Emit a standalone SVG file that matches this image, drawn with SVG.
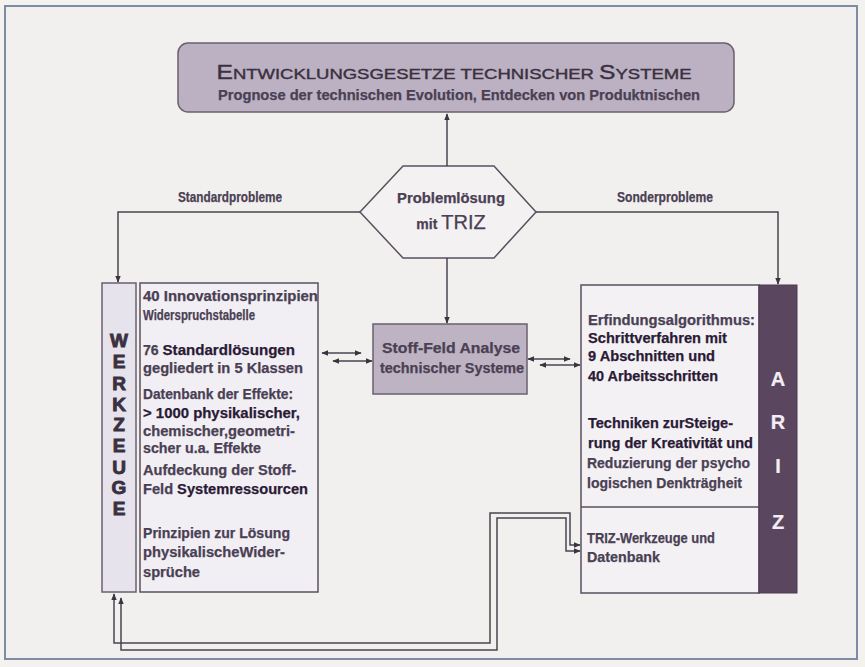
<svg xmlns="http://www.w3.org/2000/svg" width="865" height="667" viewBox="0 0 865 667">
<defs>
<style>
.t{font-family:"Liberation Sans",Arial,sans-serif;font-weight:bold;font-size:14px;fill:#4a4054;stroke:#4a4054;stroke-width:0.25}
.d{fill:#2a1a36;stroke:#2a1a36}
.big{font-family:"Liberation Sans",Arial,sans-serif;font-weight:bold;font-size:19px;fill:#3a3040;stroke:#3a3040;stroke-width:0.9;text-anchor:middle}
.w{fill:#f4eef4;stroke:#f4eef4;stroke-width:0.2;font-size:20px}
.c{fill:none;stroke:#4a4450;stroke-width:1.5}
</style>
<marker id="a" viewBox="0 0 10 10" refX="9" refY="5" markerWidth="7" markerHeight="7" orient="auto-start-reverse" markerUnits="userSpaceOnUse">
<path d="M0,1 L10,5 L0,9 z" fill="#3a3440"/>
</marker>
</defs>
<rect x="0" y="0" width="865" height="667" fill="#f4f2ef"/>
<rect x="5" y="6" width="852" height="653" fill="#f2f0ee" stroke="#7d8ba3" stroke-width="2"/>

<g id="top">
<rect x="178" y="43" width="556" height="69" rx="10" fill="#bcb1c2" stroke="#6a6070" stroke-width="1.5"/>
<text x="454" y="79" text-anchor="middle" font-family="Liberation Sans,Arial,sans-serif" fill="#3a3040" stroke="#3a3040" stroke-width="0.4" textLength="475" lengthAdjust="spacingAndGlyphs"><tspan font-size="20">E</tspan><tspan font-size="15">NTWICKLUNGSGESETZE   TECHNISCHER   </tspan><tspan font-size="20">S</tspan><tspan font-size="15">YSTEME</tspan></text>
<text class="t" x="459" y="100" text-anchor="middle" textLength="482" lengthAdjust="spacingAndGlyphs">Prognose der technischen Evolution,  Entdecken von Produktnischen</text>
</g>

<g id="hex">
<polygon points="360,212 403,166 494,166 536,212 494,258 403,258" fill="#f3f1f2" stroke="#5a5060" stroke-width="1.5"/>
<text class="t" x="451" y="203" text-anchor="middle" font-size="15" textLength="108" lengthAdjust="spacingAndGlyphs">Problemlösung</text>
<text x="451" y="229" text-anchor="middle" font-family="Liberation Sans,Arial,sans-serif" fill="#4a4054" stroke="#4a4054" stroke-width="0.25"><tspan font-size="14" font-weight="bold">mit </tspan><tspan font-size="20">TRIZ</tspan></text>
</g>

<g id="stoff">
<rect x="373" y="324" width="154" height="70" fill="#bdb3c3" stroke="#6a6070" stroke-width="1.5"/>
<text class="t" x="451" y="353" text-anchor="middle" font-size="15" textLength="138" lengthAdjust="spacingAndGlyphs">Stoff-Feld  Analyse</text>
<text class="t" x="452" y="373" text-anchor="middle" font-size="15" textLength="144" lengthAdjust="spacingAndGlyphs">technischer Systeme</text>
</g>

<g id="werkzeuge">
<rect x="102" y="283" width="34" height="309" fill="#e6e3ec" stroke="#6a6070" stroke-width="1.5"/>
<rect x="140" y="283" width="178" height="309" fill="#f1eff3" stroke="#5a5060" stroke-width="1.5"/>
<text class="big" x="119" y="347">W</text>
<text class="big" x="119" y="368">E</text>
<text class="big" x="119" y="390">R</text>
<text class="big" x="119" y="411">K</text>
<text class="big" x="119" y="431">Z</text>
<text class="big" x="119" y="452">E</text>
<text class="big" x="119" y="474">U</text>
<text class="big" x="119" y="494">G</text>
<text class="big" x="119" y="515">E</text>
<text class="t" x="143" y="301" textLength="175" lengthAdjust="spacingAndGlyphs">40 Innovationsprinzipien</text>
<text class="t" x="143" y="320" textLength="112" lengthAdjust="spacingAndGlyphs">Widerspruchstabelle</text>
<text class="t" x="143" y="355" textLength="152" lengthAdjust="spacingAndGlyphs">76 <tspan class="d" font-size="15">Standardlösungen</tspan></text>
<text class="t" x="143" y="373" textLength="160" lengthAdjust="spacingAndGlyphs">gegliedert in 5 Klassen</text>
<text class="t" x="143" y="399" textLength="150" lengthAdjust="spacingAndGlyphs">Datenbank der Effekte:</text>
<text class="t d" x="143" y="418" textLength="157" lengthAdjust="spacingAndGlyphs">&gt; 1000 physikalischer,</text>
<text class="t" x="143" y="436" textLength="152" lengthAdjust="spacingAndGlyphs">chemischer,geometri-</text>
<text class="t" x="143" y="453" textLength="118" lengthAdjust="spacingAndGlyphs">scher u.a. Effekte</text>
<text class="t" x="143" y="475" textLength="153" lengthAdjust="spacingAndGlyphs">Aufdeckung der Stoff-</text>
<text class="t" x="143" y="494" textLength="165" lengthAdjust="spacingAndGlyphs">Feld <tspan class="d">Systemressourcen</tspan></text>
<text class="t" x="143" y="538" textLength="147" lengthAdjust="spacingAndGlyphs">Prinzipien zur Lösung</text>
<text class="t" x="143" y="557" textLength="142" lengthAdjust="spacingAndGlyphs">physikalischeWider-</text>
<text class="t" x="143" y="577" textLength="57" lengthAdjust="spacingAndGlyphs">sprüche</text>
</g>

<g id="ariz">
<rect x="581" y="285" width="178" height="308" fill="#f3f1f3" stroke="#5a5060" stroke-width="1.5"/>
<line x1="581" y1="507" x2="759" y2="507" stroke="#5a5060" stroke-width="1.5"/>
<rect x="759" y="285" width="38" height="308" fill="#5b4660" stroke="#4a3a50" stroke-width="1"/>
<text class="big w" x="778" y="386">A</text>
<text class="big w" x="778" y="429">R</text>
<text class="big w" x="778" y="473">I</text>
<text class="big w" x="778" y="529">Z</text>
<text class="t" x="588" y="325" textLength="167" lengthAdjust="spacingAndGlyphs">Erfindungsalgorithmus:</text>
<text class="t d" x="588" y="343" textLength="139" lengthAdjust="spacingAndGlyphs">Schrittverfahren mit</text>
<text class="t d" x="588" y="361" textLength="127" lengthAdjust="spacingAndGlyphs">9 Abschnitten und</text>
<text class="t d" x="588" y="381" textLength="130" lengthAdjust="spacingAndGlyphs">40 Arbeitsschritten</text>
<text class="t d" x="588" y="428" textLength="145" lengthAdjust="spacingAndGlyphs">Techniken zurSteige-</text>
<text class="t d" x="588" y="448" textLength="165" lengthAdjust="spacingAndGlyphs">rung der Kreativität und</text>
<text class="t" x="587" y="468" textLength="163" lengthAdjust="spacingAndGlyphs">Reduzierung der psycho</text>
<text class="t" x="587" y="488" textLength="155" lengthAdjust="spacingAndGlyphs">logischen Denkträgheit</text>
<text class="t" x="587" y="543" textLength="128" lengthAdjust="spacingAndGlyphs">TRIZ-Werkzeuge und</text>
<text class="t" x="587" y="562" textLength="73" lengthAdjust="spacingAndGlyphs">Datenbank</text>
</g>

<g id="connectors">
<line class="c" x1="447" y1="166" x2="447" y2="114" marker-end="url(#a)"/>
<polyline class="c" points="360,212 118,212 118,282" marker-end="url(#a)"/>
<polyline class="c" points="536,212 778,212 778,284" marker-end="url(#a)"/>
<line class="c" x1="447" y1="258" x2="447" y2="323" marker-end="url(#a)"/>
<line class="c" x1="322" y1="353" x2="361" y2="353" marker-start="url(#a)" marker-end="url(#a)"/>
<line class="c" x1="333" y1="361" x2="372" y2="361" marker-start="url(#a)" marker-end="url(#a)"/>
<line class="c" x1="528" y1="359" x2="570" y2="359" marker-start="url(#a)" marker-end="url(#a)"/>
<line class="c" x1="540" y1="365" x2="580" y2="365" marker-start="url(#a)" marker-end="url(#a)"/>
<polyline class="c" points="114,594 114,643 490,643 490,513 570,513 570,545 580,545" marker-start="url(#a)" marker-end="url(#a)"/>
<polyline class="c" points="121,598 121,650 497,650 497,518 566,518 566,551 580,551" marker-start="url(#a)" marker-end="url(#a)"/>
<text class="t" x="230" y="202" text-anchor="middle" font-size="12" textLength="104" lengthAdjust="spacingAndGlyphs">Standardprobleme</text>
<text class="t" x="665" y="202" text-anchor="middle" font-size="12" textLength="96" lengthAdjust="spacingAndGlyphs">Sonderprobleme</text>
</g>
</svg>
